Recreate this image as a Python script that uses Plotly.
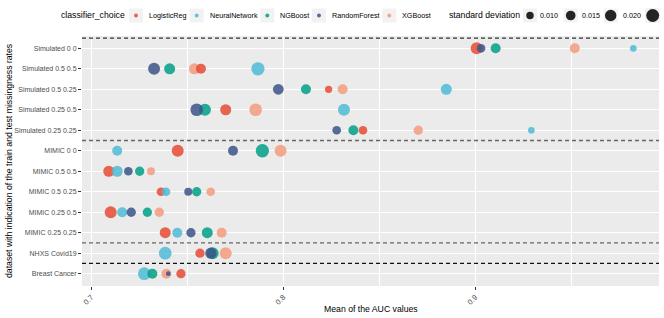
import plotly.graph_objects as go
import math

# ---------------- data ----------------
datasets = ["Simulated 0 0", "Simulated 0.5 0.5", "Simulated 0.5 0.25", "Simulated 0.25 0.5",
            "Simulated 0.25 0.25", "MIMIC 0 0", "MIMIC 0.5 0.5", "MIMIC 0.5 0.25",
            "MIMIC 0.25 0.5", "MIMIC 0.25 0.25", "NHXS Covid19", "Breast Cancer"]

classifiers = ["LogisticReg", "NeuralNetwork", "NGBoost", "RandomForest", "XGBoost"]

auc_logreg = [0.9007, 0.7571, 0.8236, 0.7700, 0.8415, 0.7450, 0.7091, 0.7363, 0.7101, 0.7385, 0.7566, 0.7467]
auc_nn     = [0.9823, 0.7868, 0.8849, 0.8316, 0.9292, 0.7135, 0.7135, 0.7389, 0.7161, 0.7448, 0.7385, 0.7276]
auc_ngb    = [0.9106, 0.7408, 0.8118, 0.7592, 0.8365, 0.7891, 0.7252, 0.7549, 0.7292, 0.7604, 0.7632, 0.7318]
auc_rf     = [0.9030, 0.7327, 0.7974, 0.7549, 0.8278, 0.7738, 0.7193, 0.7505, 0.7208, 0.7519, 0.7623, 0.7401]
auc_xgb    = [0.9518, 0.7537, 0.8309, 0.7856, 0.8703, 0.7986, 0.7311, 0.7622, 0.7354, 0.7679, 0.7700, 0.7391]

sd_logreg = [0.0217, 0.0159, 0.0096, 0.0187, 0.0126, 0.0217, 0.0187, 0.0126, 0.0217, 0.0187, 0.0141, 0.0141]
sd_nn     = [0.0085, 0.0261, 0.0187, 0.0217, 0.0085, 0.0159, 0.0187, 0.0126, 0.0159, 0.0159, 0.0240, 0.0240]
sd_ngb    = [0.0159, 0.0187, 0.0159, 0.0217, 0.0159, 0.0261, 0.0141, 0.0141, 0.0141, 0.0187, 0.0217, 0.0159]
sd_rf     = [0.0126, 0.0217, 0.0180, 0.0240, 0.0126, 0.0159, 0.0126, 0.0110, 0.0141, 0.0141, 0.0196, 0.0055]
sd_xgb    = [0.0159, 0.0187, 0.0159, 0.0240, 0.0141, 0.0217, 0.0110, 0.0126, 0.0141, 0.0159, 0.0217, 0.0159]

legend_sd = [0.010, 0.015, 0.020, 0.025]
x_ticks = [0.7, 0.8, 0.9]

# ---------------- styles ----------------
colors = {"LogisticReg": "#E64B35", "NeuralNetwork": "#4DBBD5", "NGBoost": "#00A087",
          "RandomForest": "#3C5488", "XGBoost": "#F39B7F"}
auc = {"LogisticReg": auc_logreg, "NeuralNetwork": auc_nn, "NGBoost": auc_ngb,
       "RandomForest": auc_rf, "XGBoost": auc_xgb}
sds = {"LogisticReg": sd_logreg, "NeuralNetwork": sd_nn, "NGBoost": sd_ngb,
       "RandomForest": sd_rf, "XGBoost": sd_xgb}
draw_order = ["XGBoost", "LogisticReg", "NeuralNetwork", "NGBoost", "RandomForest"]

def diam(s):
    return math.sqrt(max(7500 * s - 19, 4))

W, H = 664, 318
L, R, T, B = 82, 5, 36, 32
PW, PH = W - L - R, H - T - B

def px(xp):
    return (xp - L) / PW

def py(yp):
    return (H - B - yp) / PH

FONT = "Liberation Sans, Arial, sans-serif"

fig = go.Figure()
for c in draw_order:
    fig.add_trace(go.Scatter(
        x=auc[c], y=datasets, mode="markers", name=c, showlegend=False,
        marker=dict(color=colors[c], size=[diam(s) for s in sds[c]], opacity=0.85,
                    line=dict(width=0)),
    ))

cat_order = list(reversed(datasets))
shapes = []
for yb, col in [(11.5, "#333333"), (6.5, "#666666"), (1.5, "#666666"), (0.5, "#111111")]:
    shapes.append(dict(type="line", xref="paper", yref="y", x0=0, x1=1, y0=yb, y1=yb,
                       line=dict(color=col, width=1.3, dash="4px,3px"), layer="above"))

annotations = []
# axis titles
annotations.append(dict(text="Mean of the AUC values", xref="paper", yref="paper",
                        x=0.5, y=py(309), xanchor="center", yanchor="middle", showarrow=False,
                        font=dict(size=8.7, color="#000000", family=FONT)))
annotations.append(dict(text="dataset with indication of the train and test missingness rates",
                        xref="paper", yref="paper", x=px(9), y=py(161), xanchor="center",
                        yanchor="middle", textangle=-90, showarrow=False,
                        font=dict(size=8.7, color="#000000", family=FONT)))

# legend: classifier_choice
LY = 15.5
annotations.append(dict(text="classifier_choice", xref="paper", yref="paper", x=px(59), y=py(LY),
                        xanchor="left", yanchor="middle", showarrow=False,
                        font=dict(size=8.7, color="#000000", family=FONT)))
key_x = [136, 196.7, 267.3, 319, 389.3]
for c, kx in zip(classifiers, key_x):
    shapes.append(dict(type="rect", xref="paper", yref="paper", xsizemode="pixel", ysizemode="pixel",
                       xanchor=px(kx), yanchor=py(LY), x0=-7, x1=7, y0=-7, y1=7,
                       fillcolor="#F2F2F2", line=dict(width=0), layer="above"))
    shapes.append(dict(type="circle", xref="paper", yref="paper", xsizemode="pixel", ysizemode="pixel",
                       xanchor=px(kx), yanchor=py(LY), x0=-2, x1=2, y0=-2, y1=2,
                       fillcolor=colors[c], opacity=0.85, line=dict(width=0), layer="above"))
    annotations.append(dict(text=c, xref="paper", yref="paper", x=px(kx + 11), y=py(LY),
                            xanchor="left", yanchor="middle", showarrow=False,
                            font=dict(size=7.2, color="#000000", family=FONT)))

# legend: standard deviation (the last key's label falls outside the canvas, as in the original)
annotations.append(dict(text="standard deviation", xref="paper", yref="paper", x=px(446.7), y=py(LY),
                        xanchor="left", yanchor="middle", showarrow=False,
                        font=dict(size=8.7, color="#000000", family=FONT)))
size_x = [530, 570.7, 610.7, 652.7]
for s, kx in zip(legend_sd, size_x):
    r = diam(s) / 2
    shapes.append(dict(type="rect", xref="paper", yref="paper", xsizemode="pixel", ysizemode="pixel",
                       xanchor=px(kx), yanchor=py(LY), x0=-max(7, r + 1), x1=max(7, r + 1),
                       y0=-max(7, r + 1), y1=max(7, r + 1),
                       fillcolor="#F2F2F2", line=dict(width=0), layer="above"))
    shapes.append(dict(type="circle", xref="paper", yref="paper", xsizemode="pixel", ysizemode="pixel",
                       xanchor=px(kx), yanchor=py(LY), x0=-r, x1=r, y0=-r, y1=r,
                       fillcolor="#000000", opacity=0.85, line=dict(width=0), layer="above"))
    if kx + r + 4.5 < W - 20:
        annotations.append(dict(text=f"{s:.3f}", xref="paper", yref="paper", x=px(kx + r + 4.5), y=py(LY),
                                xanchor="left", yanchor="middle", showarrow=False,
                                font=dict(size=7.2, color="#000000", family=FONT)))

x_lo = 0.7 - (91.3 - L) / 1920
x_hi = 0.7 + (W - R - 91.3) / 1920

fig.update_layout(
    width=W, height=H, margin=dict(l=L, r=R, t=T, b=B),
    paper_bgcolor="white", plot_bgcolor="#EBEBEB",
    font=dict(family=FONT, size=7, color="#4D4D4D"),
    showlegend=False, shapes=shapes, annotations=annotations,
    xaxis=dict(range=[x_lo, x_hi], tickvals=x_ticks, ticktext=[str(v) for v in x_ticks],
               tickangle=-45, showgrid=True, gridcolor="white", gridwidth=1.1,
               zeroline=False, ticks="outside", ticklen=3, tickcolor="#333333", tickwidth=1,
               tickfont=dict(size=7.5, color="#4D4D4D"), automargin=False,
               minor=dict(dtick=0.05, tick0=0.7, showgrid=True, gridcolor="white", gridwidth=0.5,
                          ticks="")),
    yaxis=dict(type="category", categoryorder="array", categoryarray=cat_order,
               range=[-0.6, 11.6], showgrid=True, gridcolor="white", gridwidth=1.1,
               zeroline=False, ticks="outside", ticklen=3, tickcolor="#333333", tickwidth=1,
               tickfont=dict(size=7, color="#4D4D4D"), automargin=False),
)

fig.write_html("out.html", config={"displayModeBar": False},
               post_script="document.body.style.margin='0';document.body.style.padding='0';")
